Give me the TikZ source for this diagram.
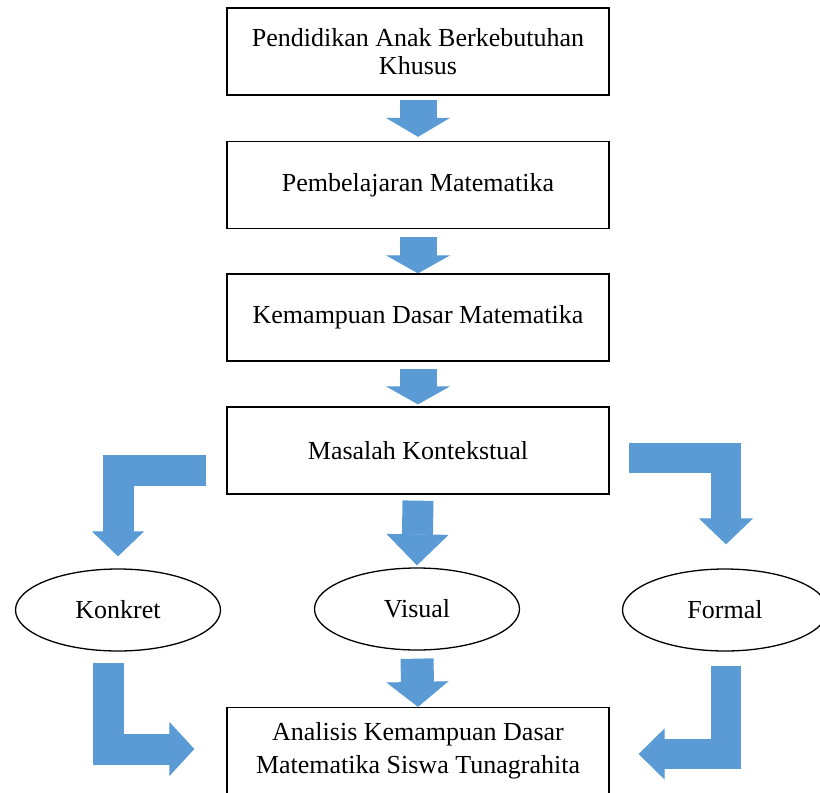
\documentclass[tikz,border=0pt]{standalone}
\usepackage{fontspec}
\setmainfont{Liberation Serif}
\usetikzlibrary{arrows.meta,shapes.geometric}
\definecolor{arrowblue}{HTML}{5B9BD5}
\tikzset{
	box/.style={draw, line width=1.3pt, minimum width=382pt, minimum height=87pt, inner sep=0pt, align=center, font=\fontsize{26}{30}\selectfont},
	oval/.style={draw, ellipse, line width=1.3pt, minimum width=205pt, minimum height=82pt, inner sep=0pt, font=\fontsize{26}{30}\selectfont},
	flow/.style n args={3}{draw=arrowblue, line width=#1, line join=miter, -{Triangle[width=#2,length=#3,line width=1pt]}},
}
\begin{document}
\begin{tikzpicture}[x=1pt,y=-1pt]
					\useasboundingbox (0,0) rectangle (820,793);
					\clip (0,0) rectangle (820,793);
					\node[box] (pendidikan) at (418,51.5) {Pendidikan Anak Berkebutuhan\\[-2pt]Khusus};
					\node[box] (pembelajaran) at (418,185) {Pembelajaran Matematika};
					\node[box] (kemampuan) at (418,317.5) {Kemampuan Dasar Matematika};
					\node[box] (masalah) at (418,450.5) {Masalah Kontekstual};
					\node[oval] (konkret) at (118,610) {Konkret};
					\node[oval] (visual) at (417,609) {Visual};
					\node[oval] (formal) at (725,610) {Formal};
					\node[box] (analisis) at (418,751) {Analisis Kemampuan Dasar\\[3pt]Matematika Siswa Tunagrahita};
					\draw[flow={37pt}{64pt}{19pt}] ([yshift=-4pt]pendidikan.south) -- ([yshift=4pt]pembelajaran.north);
					\draw[flow={37pt}{64pt}{18pt}] ([yshift=-8pt]pembelajaran.south) -- ([yshift=0pt]kemampuan.north);
					\draw[flow={37pt}{64pt}{18pt}] ([yshift=-7pt]kemampuan.south) -- ([yshift=2pt]masalah.north);
					\draw[flow={31pt}{62pt}{31pt}] ([yshift=-6pt]masalah.south) -- ([yshift=2pt]visual.north);
					\draw[flow={33pt}{62pt}{25pt}] ([yshift=-8pt]visual.south) -- (analisis.north);
					\draw[flow={31pt}{52pt}{25pt}] ([xshift=-20pt,yshift=-19.5pt]masalah.west) -| ([yshift=12pt]konkret.north);
					\draw[flow={30pt}{54pt}{26pt}] ([xshift=19pt,yshift=-7.5pt]masalah.east) -| ([xshift=1pt,yshift=24pt]formal.north);
					\draw[flow={31pt}{54pt}{25pt}] ([xshift=-10pt,yshift=-11pt]konkret.south) |- ([xshift=-32pt,yshift=2pt]analisis.west);
					\draw[flow={30pt}{51pt}{26pt}] ([xshift=1pt,yshift=-14pt]formal.south) |- ([xshift=29pt,yshift=-3pt]analisis.east);
\end{tikzpicture}
\end{document}
